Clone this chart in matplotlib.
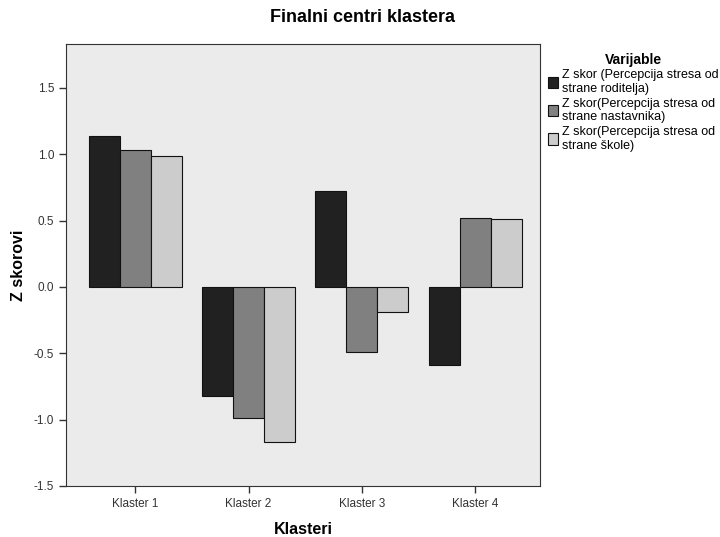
import numpy as np
import matplotlib
matplotlib.use("Agg")
import matplotlib.pyplot as plt

plt.rcParams["font.family"] = ["Liberation Sans", "DejaVu Sans"]

klasteri = ["Klaster 1", "Klaster 2", "Klaster 3", "Klaster 4"]
serije = [
    "Z skor (Percepcija stresa od\nstrane roditelja)",
    "Z skor(Percepcija stresa od\nstrane nastavnika)",
    "Z skor(Percepcija stresa od\nstrane škole)",
]
roditelji = [1.14, -0.82, 0.72, -0.59]
nastavnici = [1.03, -0.99, -0.49, 0.52]
skola = [0.99, -1.17, -0.19, 0.51]
boje = ["#212121", "#808080", "#cccccc"]


def main():
    fig = plt.figure(figsize=(7.2, 5.37), dpi=100)
    ax = fig.add_axes([0.0917, 0.095, 0.658, 0.823])
    ax.set_facecolor("#ebebeb")

    x = np.arange(len(klasteri))
    w = 0.273
    for i, (vals, lab, c) in enumerate(zip([roditelji, nastavnici, skola], serije, boje)):
        ax.bar(x + (i - 1) * w, vals, width=w, color=c, edgecolor="#111111",
               linewidth=0.8, label=lab)

    ax.set_xlim(-0.61, 3.57)
    ax.set_ylim(-1.5, 1.83)
    ax.set_yticks([-1.5, -1.0, -0.5, 0.0, 0.5, 1.0, 1.5])
    ax.set_yticklabels(["-1.5", "-1.0", "-0.5", "0.0", "0.5", "1.0", "1.5"])
    ax.set_xticks(x)
    ax.set_xticklabels(klasteri)
    ax.tick_params(axis="both", labelsize=8.5, length=5, width=1, color="#333333",
                   labelcolor="#333333")
    for s in ax.spines.values():
        s.set_color("#333333")

    ax.set_ylabel("Z skorovi", fontsize=11.5, fontweight="bold", labelpad=6)
    ax.set_xlabel("Klasteri", fontsize=11.5, fontweight="bold", labelpad=9)
    fig.text(0.503, 0.968, "Finalni centri klastera", ha="center", va="center",
             fontsize=13, fontweight="bold")

    leg = ax.legend(loc="upper left", bbox_to_anchor=(0.998, 1.0), frameon=False,
                    fontsize=9, title="Varijable", handlelength=0.85,
                    handleheight=1.0, handletextpad=0.3, labelspacing=0.2,
                    borderaxespad=0.3)
    leg.get_title().set_fontweight("bold")
    leg.get_title().set_fontsize(10)
    leg._legend_box.align = "center"

    fig.savefig("out.png", dpi=100)
    plt.close("all")


if __name__ == "__main__":
    main()
